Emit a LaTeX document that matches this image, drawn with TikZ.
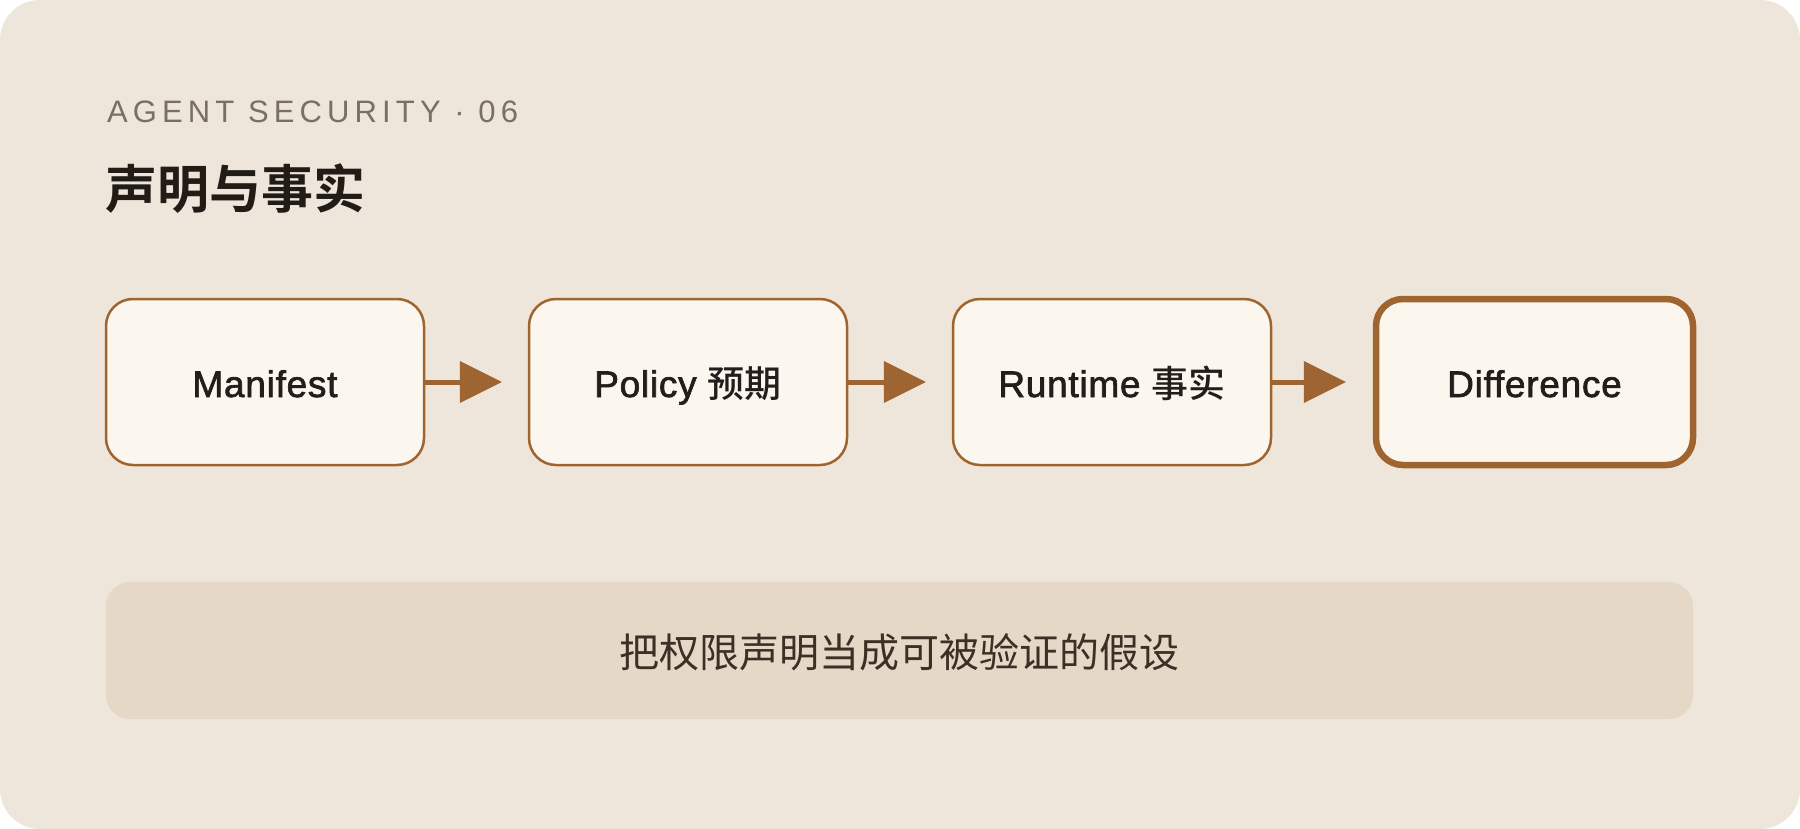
\documentclass[tikz,border=0pt]{standalone}
\usepackage{fontspec}
\setmainfont{Liberation Sans}
\newfontfamily\cjkB{Noto Sans CJK SC}[UprightFont=* Bold]
\newfontfamily\cjkM{Noto Sans CJK SC}[UprightFont=* Medium]
\newfontfamily\cjkR{Noto Sans CJK SC}
\newfontfamily\latM{Liberation Sans}[FakeBold=1.8,LetterSpace=2]
\newfontfamily\latS{Liberation Sans}[LetterSpace=16.5]
\usetikzlibrary{arrows.meta}
\definecolor{card}{HTML}{EEE6DB}
\definecolor{boxfill}{HTML}{FBF7EF}
\definecolor{brd}{HTML}{A0652F}
\definecolor{arr}{HTML}{9E6431}
\definecolor{barfill}{HTML}{E5D8C7}
\definecolor{kicker}{HTML}{7A6F63}
\definecolor{titlec}{HTML}{221C17}
\definecolor{boxtext}{HTML}{221E1B}
\definecolor{bartext}{HTML}{3B2F26}
\begin{document}
\begin{tikzpicture}[x=1pt,y=-1pt,
  stepbox/.style={draw=brd, fill=boxfill, line width=2.5pt, rounded corners=27pt,
    minimum width=318pt, minimum height=166pt, inner sep=0pt,
    text=boxtext, font=\fontsize{37pt}{40pt}\selectfont\latM,
    text height=30pt, text depth=0pt},
  keybox/.style={stepbox, line width=6.5pt, minimum width=317pt},
  conn/.style={draw=arr, line width=5pt,
    -{Triangle[length=42pt,width=42pt,line width=0pt]}}
]
\useasboundingbox (0,0) rectangle (1800,829);
\fill[white] (0,0) rectangle (1800,829);
\fill[card, rounded corners=40pt] (0,0) rectangle (1800,829);

\node[anchor=base west, inner sep=0pt, text=kicker,
  font=\fontsize{31pt}{36pt}\selectfont\latS] (kick) at (107,123)
  {AGENT SECURITY · 06};
\node[anchor=base west, inner sep=0pt, text=titlec,
  font=\fontsize{52pt}{60pt}\selectfont\cjkB] (title) at (105,209)
  {声明与事实};

\node[stepbox] (man) at (265,382) {Manifest};
\node[stepbox] (pol) at (688,382) {Policy {\cjkM 预期}};
\node[stepbox] (run) at (1112,382) {Runtime {\cjkM 事实}};
\node[keybox] (dif) at (1534.5,382) {Difference};

\draw[conn] (man.east) -- ([xshift=-26pt]pol.west);
\draw[conn] (pol.east) -- ([xshift=-26pt]run.west);
\draw[conn] (run.east) -- ([xshift=-27pt]dif.west);

\node[fill=barfill, rounded corners=24pt, minimum width=1587pt, minimum height=137pt,
  inner sep=0pt, text=bartext, font=\fontsize{40pt}{44pt}\selectfont\cjkR,
  text height=33pt, text depth=0pt] (note) at (899.5,650.5)
  {把权限声明当成可被验证的假设};
\end{tikzpicture}
\end{document}
